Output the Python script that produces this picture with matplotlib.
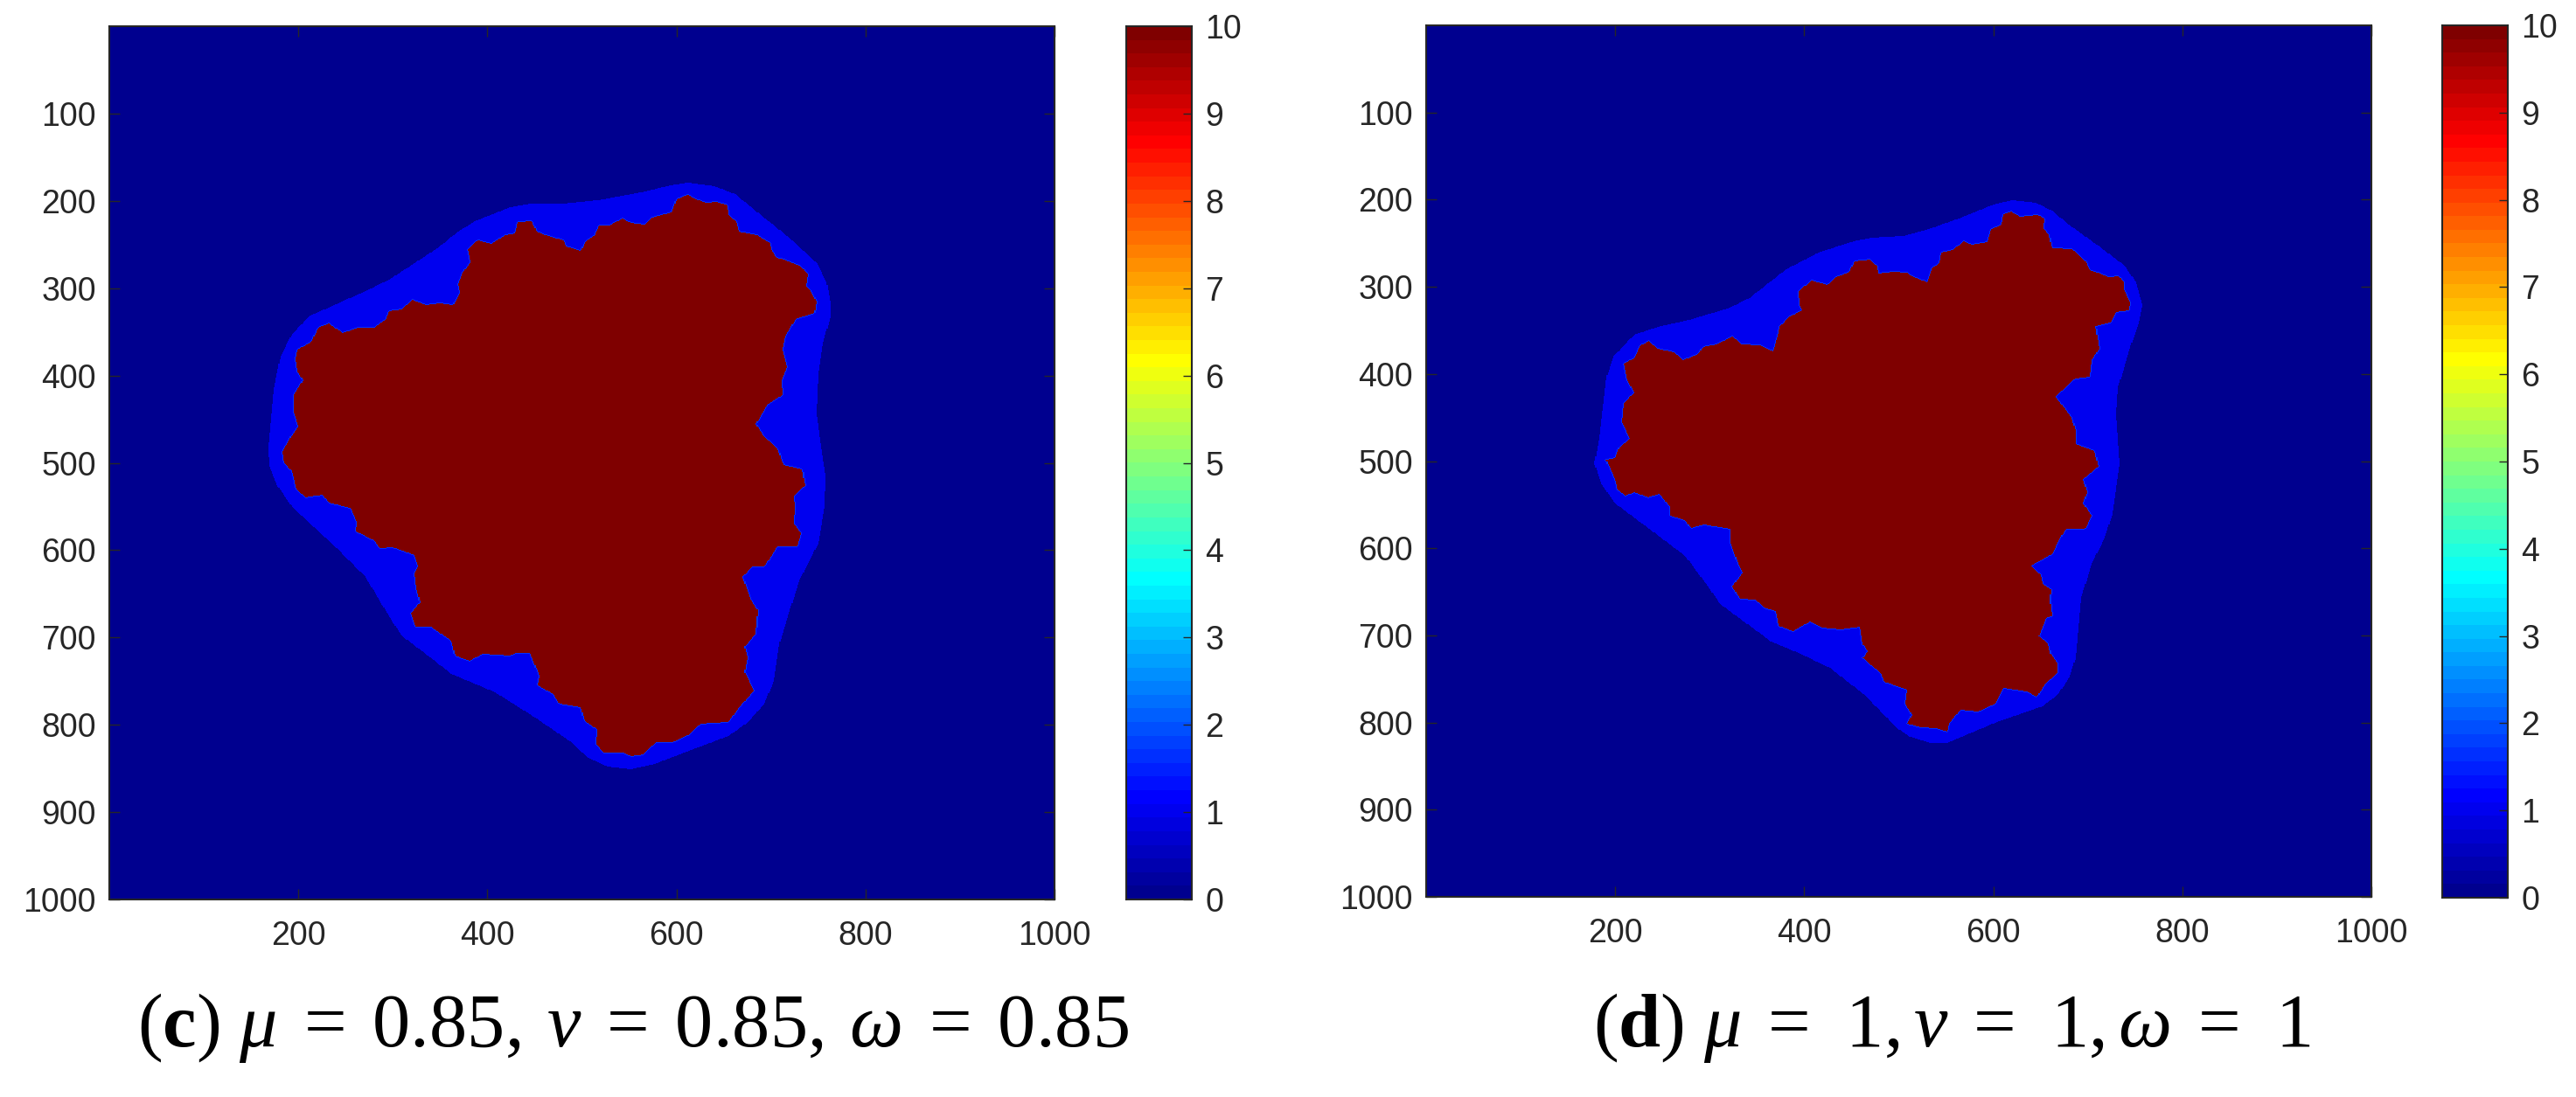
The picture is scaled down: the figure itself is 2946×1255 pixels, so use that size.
import matplotlib

matplotlib.use("Agg")

import matplotlib.pyplot as plt
import numpy as np
from matplotlib.colors import ListedColormap
from matplotlib.path import Path

FIG_W = 2946
FIG_H = 1255

TICK_COLOR = "#262626"

plt.rcParams["font.family"] = ["Liberation Sans", "DejaVu Sans"]
plt.rcParams["mathtext.fontset"] = "custom"
plt.rcParams["mathtext.rm"] = "Liberation Serif"
plt.rcParams["mathtext.it"] = "Liberation Serif:italic"
plt.rcParams["mathtext.bf"] = "Liberation Serif:bold"

x_ticks = [200, 400, 600, 800, 1000]
y_ticks = [100, 200, 300, 400, 500, 600, 700, 800, 900, 1000]
bar_ticks = [0, 1, 2, 3, 4, 5, 6, 7, 8, 9, 10]

caption_c = r"$\mathrm{(}\mathbf{c}\mathrm{)}\ \mu\;=\;0.85,\:\nu\;=\;0.85,\:\omega\;=\;0.85$"
caption_d = r"$\mathrm{(}\mathbf{d}\mathrm{)}\ \mu\;=\;\,1,\nu\;=\;\,1,\omega\;=\;\,1$"

# outlines, in image index units
core_c = [
    (612, 193), (600, 198), (595, 213), (574, 219), (566, 227), (552, 225), (543, 220),
    (529, 228), (518, 228), (513, 240), (504, 246), (499, 257), (483, 252), (481, 245),
    (464, 240), (452, 235), (447, 223), (432, 224), (429, 237), (419, 239), (404, 249),
    (390, 245), (379, 255), (382, 270), (374, 282), (369, 295), (371, 305), (364, 319),
    (350, 317), (335, 319), (321, 313), (309, 324), (296, 326), (292, 336), (280, 345),
    (263, 345), (247, 351), (232, 340), (221, 345), (214, 361), (199, 370), (197, 380),
    (199, 395), (205, 405), (195, 422), (195, 441), (200, 458), (192, 470), (183, 487),
    (185, 500), (193, 510), (198, 531), (207, 540), (226, 537), (232, 546), (255, 552),
    (262, 568), (261, 579), (280, 589), (286, 598), (300, 597), (323, 606), (327, 619),
    (323, 627), (325, 644), (329, 660), (319, 673), (324, 688), (340, 688), (362, 704),
    (366, 721), (381, 727), (395, 719), (424, 721), (430, 718), (445, 718), (455, 744),
    (453, 755), (470, 765), (476, 776), (499, 780), (503, 796), (516, 805), (515, 822),
    (523, 832), (544, 832), (552, 836), (565, 834), (579, 820), (596, 820), (614, 811),
    (625, 799), (655, 797), (665, 782), (682, 761), (672, 740), (675, 723), (672, 711),
    (684, 696), (686, 669), (678, 656), (670, 631), (680, 619), (693, 619), (707, 596),
    (728, 596), (732, 581), (724, 570), (725, 550), (724, 539), (736, 527), (733, 508),
    (713, 503), (707, 483), (693, 470), (684, 455), (697, 432), (712, 422), (711, 405),
    (717, 390), (712, 370), (715, 355), (726, 335), (746, 328), (748, 315), (742, 303),
    (737, 297), (739, 284), (732, 275), (714, 267), (706, 265), (700, 255), (699, 248),
    (685, 239), (666, 235), (663, 223), (655, 215), (654, 205), (643, 201), (631, 202),
    (621, 198),
]

halo_c = [
    (612, 179), (640, 183), (662, 192), (686, 213), (717, 240), (748, 270), (759, 293),
    (763, 317), (763, 332), (755, 363), (750, 397), (748, 443), (753, 481), (758, 516),
    (757, 550), (750, 593), (730, 635), (720, 669), (709, 707), (703, 750), (693, 776),
    (676, 797), (655, 813), (618, 828), (577, 845), (552, 851), (527, 848), (507, 838),
    (486, 818), (445, 788), (408, 763), (362, 742), (337, 721), (309, 698), (292, 669),
    (271, 631), (234, 591), (193, 550), (178, 527), (169, 504), (168, 481), (174, 416),
    (181, 378), (193, 353), (211, 332), (242, 317), (267, 305), (296, 290), (347, 254),
    (369, 235), (387, 223), (424, 207), (446, 203), (480, 203), (517, 199), (563, 190),
    (594, 182),
]

core_d = [
    (619, 214), (611, 217), (609, 229), (598, 234), (594, 249), (577, 252), (569, 248),
    (557, 258), (545, 261), (543, 273), (536, 278), (530, 295), (514, 288), (509, 284),
    (494, 283), (478, 285), (477, 276), (470, 269), (453, 271), (448, 283), (432, 290),
    (425, 298), (408, 293), (394, 305), (395, 321), (398, 327), (383, 335), (374, 346),
    (372, 356), (367, 374), (353, 367), (334, 366), (324, 357), (307, 366), (293, 369),
    (288, 377), (272, 384), (262, 375), (245, 371), (236, 362), (227, 367), (220, 382),
    (209, 388), (213, 407), (220, 421), (209, 434), (207, 455), (216, 474), (204, 484),
    (200, 496), (190, 498), (200, 521), (203, 534), (211, 540), (220, 536), (235, 542),
    (247, 538), (258, 553), (258, 563), (274, 568), (280, 577), (294, 573), (322, 578),
    (322, 593), (330, 618), (335, 628), (324, 644), (332, 658), (348, 659), (357, 668),
    (370, 672), (373, 689), (388, 695), (406, 684), (419, 691), (439, 693), (459, 690),
    (462, 710), (467, 718), (462, 726), (481, 743), (485, 753), (509, 762), (507, 778),
    (514, 791), (509, 801), (524, 805), (540, 806), (551, 810), (553, 801), (565, 785),
    (584, 787), (602, 778), (611, 760), (635, 764), (646, 770), (654, 757), (668, 743),
    (668, 732), (660, 720), (658, 709), (648, 701), (656, 680), (662, 678), (660, 659),
    (661, 647), (652, 641), (650, 630), (640, 620), (662, 607), (671, 588), (677, 578),
    (697, 578), (704, 563), (695, 549), (699, 536), (695, 521), (711, 507), (707, 488),
    (687, 480), (687, 465), (683, 450), (666, 426), (687, 405), (702, 403), (704, 384),
    (712, 371), (708, 345), (724, 341), (730, 329), (744, 327), (745, 318), (738, 303),
    (738, 295), (733, 288), (722, 289), (713, 285), (702, 281), (697, 270), (684, 257),
    (662, 256), (659, 241), (653, 233), (654, 222), (647, 218), (628, 220),
]

halo_d = [
    (620, 201), (645, 204), (662, 213), (680, 229), (711, 253), (739, 276), (751, 295),
    (758, 321), (754, 341), (745, 369), (732, 415), (730, 446), (734, 503), (726, 561),
    (718, 588), (704, 618), (693, 657), (687, 726), (681, 747), (668, 768), (652, 781),
    (604, 799), (551, 823), (534, 823), (512, 816), (497, 805), (464, 768), (427, 737),
    (394, 720), (365, 707), (311, 664), (299, 645), (274, 609), (241, 582), (200, 549),
    (185, 526), (178, 503), (183, 473), (191, 403), (198, 380), (220, 355), (245, 346),
    (278, 338), (319, 325), (342, 313), (381, 280), (415, 261), (452, 248), (471, 244),
    (505, 242), (532, 234), (566, 221), (600, 206),
]


def matlab_jet(levels=64):
    x = np.arange(1, levels + 1) / levels
    r = np.minimum(4 * x - 1.5, -4 * x + 4.5)
    g = np.minimum(4 * x - 0.5, -4 * x + 3.5)
    b = np.minimum(4 * x + 0.5, -4 * x + 2.5)
    return ListedColormap(np.clip(np.column_stack([r, g, b]), 0, 1))


def px_axes(fig, left, top, right, bottom):
    return fig.add_axes([
        left / FIG_W,
        1 - bottom / FIG_H,
        (right - left) / FIG_W,
        (bottom - top) / FIG_H,
    ])


def build_field(core, halo, size=1000):
    cols, rows = np.meshgrid(np.arange(size) + 0.5, np.arange(size) + 0.5)
    points = np.column_stack([cols.ravel(), rows.ravel()])

    field = np.zeros(points.shape[0])
    field[Path(halo).contains_points(points)] = 1.0
    core_mask = Path(core).contains_points(points).reshape(size, size)
    field = field.reshape(size, size)

    # thin lighter rim where the escape time jumps
    rim = core_mask.copy()
    rim[1:, :] |= core_mask[:-1, :]
    rim[:-1, :] |= core_mask[1:, :]
    rim[:, 1:] |= core_mask[:, :-1]
    rim[:, :-1] |= core_mask[:, 1:]

    field[rim] = 1.7
    field[core_mask] = 10.0
    return field


def style_axis(ax):
    for spine in ax.spines.values():
        spine.set_linewidth(1.5)
        spine.set_color(TICK_COLOR)


def draw_panel(fig, core, halo, ax_box, bar_box, cmap):
    ax = px_axes(fig, *ax_box)
    ax.imshow(
        build_field(core, halo),
        cmap=cmap,
        vmin=0,
        vmax=10,
        extent=(0, 1000, 1000, 0),
        aspect="auto",
        interpolation="nearest",
    )
    ax.set_xticks(x_ticks)
    ax.set_yticks(y_ticks)
    ax.tick_params(
        axis="both",
        direction="in",
        top=True,
        right=True,
        length=8.5,
        width=1.0,
        color=TICK_COLOR,
        labelcolor=TICK_COLOR,
        labelsize=27,
    )
    ax.tick_params(axis="x", pad=17)
    ax.tick_params(axis="y", pad=11)
    style_axis(ax)

    bar = px_axes(fig, *bar_box)
    gradient = (np.arange(64)[::-1] + 0.5).reshape(-1, 1) * 10 / 64
    bar.imshow(
        gradient,
        cmap=cmap,
        vmin=0,
        vmax=10,
        extent=(0, 1, 0, 10),
        aspect="auto",
        interpolation="nearest",
    )
    bar.set_xticks([])
    bar.set_yticks(bar_ticks)
    bar.yaxis.tick_right()
    bar.tick_params(
        axis="y",
        direction="in",
        length=7.5,
        width=1.0,
        pad=11,
        color=TICK_COLOR,
        labelcolor=TICK_COLOR,
        labelsize=27,
    )
    style_axis(bar)


def main():
    fig = plt.figure(figsize=(FIG_W / 100, FIG_H / 100), dpi=100, facecolor="white")
    cmap = matlab_jet()

    draw_panel(fig, core_c, halo_c, (125, 30, 1206, 1029), (1288, 30, 1363, 1029), cmap)
    draw_panel(fig, core_d, halo_d, (1631, 29, 2712, 1026), (2793, 29, 2868, 1027), cmap)

    fig.text(157 / FIG_W, 1 - 1197 / FIG_H, caption_c, fontsize=62.3, color="black", va="baseline")
    fig.text(1822 / FIG_W, 1 - 1197 / FIG_H, caption_d, fontsize=62.3, color="black", va="baseline")

    fig.savefig("out.png", dpi=100)
    plt.close(fig)


if __name__ == "__main__":
    main()
